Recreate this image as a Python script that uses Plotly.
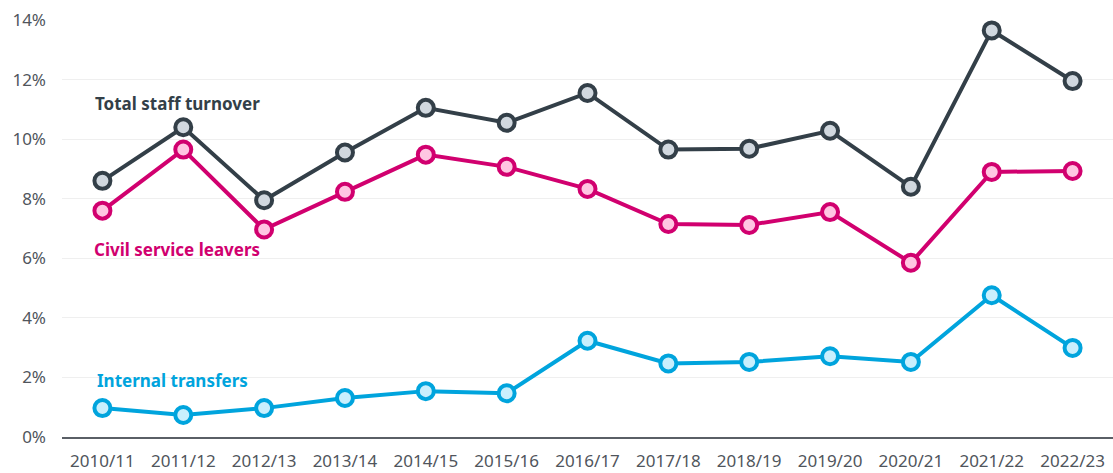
import plotly.graph_objects as go

years = ["2010/11","2011/12","2012/13","2013/14","2014/15","2015/16","2016/17",
         "2017/18","2018/19","2019/20","2020/21","2021/22","2022/23"]
total = [8.6, 10.4, 7.95, 9.55, 11.05, 10.55, 11.55, 9.65, 9.68, 10.28, 8.4, 13.65, 11.95]
civil = [7.6, 9.65, 6.97, 8.23, 9.48, 9.07, 8.33, 7.15, 7.12, 7.55, 5.85, 8.9, 8.93]
internal = [0.97, 0.74, 0.97, 1.31, 1.54, 1.47, 3.23, 2.47, 2.52, 2.71, 2.52, 4.76, 2.99]

series = [
    ("Total staff turnover", total, "#333f48", "#d1d8df"),
    ("Civil service leavers", civil, "#d1006f", "#ffc6e2"),
    ("Internal transfers", internal, "#00a4dd", "#c9effd"),
]

fig = go.Figure()
for name, vals, col, fill in series:
    fig.add_trace(go.Scatter(
        x=list(range(len(years))), y=vals, mode="lines+markers", name=name,
        line=dict(color=col, width=4),
        marker=dict(size=16, color=fill, line=dict(color=col, width=4)),
        showlegend=False, cliponaxis=False,
    ))

labels = [
    ("Total staff turnover", -0.12, 11.2, "#333f48"),
    ("Civil service leavers", -0.13, 6.3, "#d1006f"),
    ("Internal transfers", -0.09, 1.9, "#00a4dd"),
]
for txt, x, y, col in labels:
    fig.add_annotation(x=x, y=y, text=f"<b>{txt}</b>", showarrow=False,
                       xanchor="left", yanchor="middle",
                       font=dict(family="Noto Sans", size=17, color=col))

fig.update_layout(
    width=1113, height=473,
    margin=dict(l=62, r=0, t=20, b=36),
    paper_bgcolor="white", plot_bgcolor="white",
    font=dict(family="Noto Sans", size=17, color="#50555c"),
)
fig.update_xaxes(
    range=[-0.5, 12.5], tickmode="array", tickvals=list(range(len(years))),
    ticktext=years, showgrid=False, showline=True, linecolor="#5a5f66",
    linewidth=1.5, ticks="", zeroline=False, tickfont=dict(size=17),
    ticklabelstandoff=8, automargin=False,
)
fig.update_yaxes(
    range=[0, 14], tickvals=[0, 2, 4, 6, 8, 10, 12, 14],
    ticktext=["0%", "2%", "4%", "6%", "8%", "10%", "12%", "14%"],
    showgrid=True, gridcolor="#efefef", gridwidth=1, zeroline=False,
    showline=False, ticks="", ticklabelstandoff=15, tickfont=dict(size=17),
    automargin=False,
)
fig.write_html("out.html", config={"displayModeBar": False},
               post_script="document.body.style.margin='0';document.body.style.overflow='hidden';")
